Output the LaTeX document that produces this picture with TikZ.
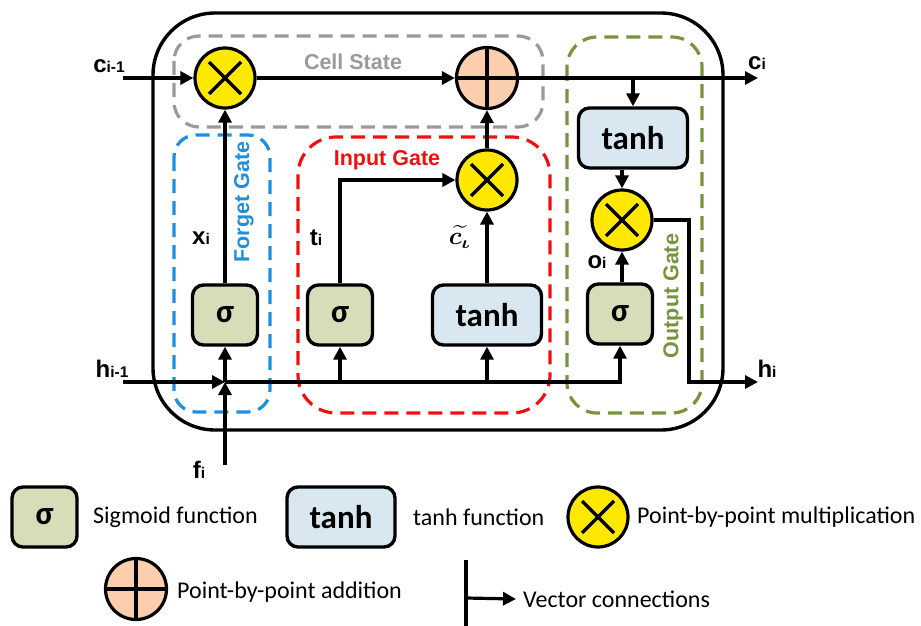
\documentclass[tikz,border=0pt]{standalone}
\usepackage{amsmath}
\usepackage{fontspec}
\setsansfont{Liberation Sans}
\newfontfamily\calfont{Carlito}
\usepackage{tikz}
\usetikzlibrary{arrows.meta,positioning}
\definecolor{sigfill}{HTML}{D7DDB9}
\definecolor{tanhfill}{HTML}{D9E7F1}
\definecolor{multfill}{HTML}{FFE800}
\definecolor{addfill}{HTML}{FBCFAE}
\definecolor{cellgray}{HTML}{9A9A9A}
\definecolor{forgetblue}{HTML}{1B8FE0}
\definecolor{inputred}{HTML}{F01010}
\definecolor{outolive}{HTML}{77933C}
\newcommand{\sublbl}[2]{{\fontsize{24}{24}\selectfont #1}{\fontsize{15.5}{15.5}\selectfont #2}}

\begin{document}
\begin{tikzpicture}[x=1pt,y=-1pt,
  every node/.style={font=\sffamily\bfseries},
  wire/.style={line width=3.2pt},
  darr/.style={-{Triangle[length=13pt,width=13pt]},line width=3.2pt},
  gatebox/.style={line width=3.2pt,dash pattern=on 14pt off 8pt},
  fnbox/.style={draw,line width=3.4pt,rounded corners=11pt,minimum height=60pt,inner sep=0pt,
    font=\calfont\bfseries\fontsize{33}{33}\selectfont},
  sigbox/.style={fnbox,fill=sigfill,minimum width=65pt},
  tanhbox/.style={fnbox,fill=tanhfill,minimum width=109pt},
  mult/.style={circle,draw,line width=3.2pt,fill=multfill,minimum size=60pt,inner sep=0pt,
    path picture={\draw[line width=3.2pt]
      ([shift={(-16pt,-16pt)}]path picture bounding box.center) -- ([shift={(16pt,16pt)}]path picture bounding box.center)
      ([shift={(-16pt,16pt)}]path picture bounding box.center) -- ([shift={(16pt,-16pt)}]path picture bounding box.center);}},
  addcirc/.style={circle,draw,line width=3.2pt,fill=addfill,minimum size=61pt,inner sep=0pt,
    path picture={\draw[line width=3.2pt]
      (path picture bounding box.west) -- (path picture bounding box.east)
      (path picture bounding box.north) -- (path picture bounding box.south);}},
  lbl/.style={inner sep=0pt},
  gatelbl/.style={font=\sffamily\bfseries\fontsize{21.5}{21.5}\selectfont,inner sep=0pt},
  legtext/.style={anchor=west,inner sep=0pt,font=\calfont\fontsize{24}{24}\selectfont}
]
\useasboundingbox (0,0) rectangle (921,626);

% cell and gate frames
\draw[line width=3.4pt,rounded corners=62pt] (153,13) rectangle (723,430);
\draw[gatebox,draw=cellgray,rounded corners=25pt] (174,36) rectangle (543,127);
\draw[gatebox,draw=forgetblue,rounded corners=22pt] (174,135) rectangle (270,412);
\draw[gatebox,draw=inputred,rounded corners=38pt] (298,137) rectangle (550,413);
\draw[gatebox,draw=outolive,rounded corners=30pt] (567,37) rectangle (702,413);
\node[gatelbl,text=cellgray] (celllbl) at (353,62) {Cell State};
\node[gatelbl,text=inputred] (inputlbl) at (387,160) {Input Gate};
\node[gatelbl,text=forgetblue,rotate=90] (forgetlbl) at (244,202) {Forget Gate};
\node[gatelbl,text=outolive,rotate=90] (outlbl) at (673,296) {Output Gate};

% operations
\node[mult] (mulforget) at (225,78) {};
\node[addcirc] (add) at (487,78) {};
\node[mult] (mulinput) at (487,180) {};
\node[mult] (mulout) at (622,220) {};
\node[sigbox] (sigforget) at (225,315) {σ};
\node[sigbox] (siginput) at (340,315) {σ};
\node[tanhbox] (tanhin) at (487,315) {tanh};
\node[tanhbox] (tanhout) at (633,138) {tanh};
\node[sigbox] (sigout) at (620,314) {σ};

% inputs and outputs
\coordinate (cin) at (123,78);
\coordinate (cout) at (758,78);
\coordinate (hin) at (123,382);
\coordinate (hj) at (225,382);
\coordinate (fin) at (225,465);
\coordinate (hbend) at (689,382);
\coordinate (hout) at (758,382);
\node[lbl] (cinlbl) at (109,66) {\sublbl{c}{i-1}};
\node[lbl] (coutlbl) at (757,63) {\sublbl{c}{i}};
\node[lbl] (hinlbl) at (112,369) {\sublbl{h}{i-1}};
\node[lbl] (houtlbl) at (767,369) {\sublbl{h}{i}};
\node[lbl] (finlbl) at (199,470) {\sublbl{f}{i}};
\node[lbl] (xlbl) at (201,238) {\sublbl{x}{i}};
\node[lbl] (tlbl) at (316,238) {\sublbl{t}{i}};
\node[lbl] (ctlbl) at (460,237) {\scalebox{2.5}{$\boldsymbol{\widetilde{c_{\iota}}}$}};
\node[lbl] (olbl) at (597,262) {\sublbl{o}{i}};

% connectors
\draw[darr] (cin) -- (mulforget);
\draw[darr] (mulforget) -- (add);
\draw[darr] (add) -- (cout);
\draw[darr] (tanhout.north |- add.east) -- (tanhout.north);
\draw[darr] (tanhout.south -| mulout) -- (mulout);
\draw[darr] (sigout.north -| mulout) -- (mulout);
\draw[darr] (mulout.east) -| (hbend) -- (hout);
\draw[darr] (sigforget) -- (mulforget);
\draw[darr] (siginput.north) |- (mulinput.west);
\draw[darr] (tanhin) -- (mulinput);
\draw[darr] (mulinput) -- (add);
\draw[darr] (hin) -- (hj);
\draw[darr] (fin) -- (hj);
\draw[darr] (hj) -- (sigforget);
\draw[darr] (hj) -| (sigout.south);
\draw[darr] (siginput.south |- hj) -- (siginput.south);
\draw[darr] (tanhin.south |- hj) -- (tanhin.south);

% legend
\node[sigbox] (legsig) at (44.5,517) {σ};
\node[legtext] (legsigtxt) at (93,517) {Sigmoid function};
\node[tanhbox,minimum width=108pt] (legtanh) at (341,517) {tanh};
\node[legtext] (legtanhtxt) at (413,517) {tanh function};
\node[mult] (legmul) at (598,517) {};
\node[legtext] (legmultxt) at (637,517) {Point-by-point multiplication};
\node[addcirc] (legadd) at (136,589) {};
\node[legtext] (legaddtxt) at (177,592) {Point-by-point addition};
\coordinate (vtop) at (466,560);
\coordinate (vbot) at (466,626);
\coordinate (vj) at (466,598);
\node[legtext,inner xsep=7pt] (legvec) at (516,599) {Vector connections};
\draw[wire] (vtop) -- (vbot);
\draw[darr] (vj) -- (legvec.west);
\end{tikzpicture}
\end{document}
